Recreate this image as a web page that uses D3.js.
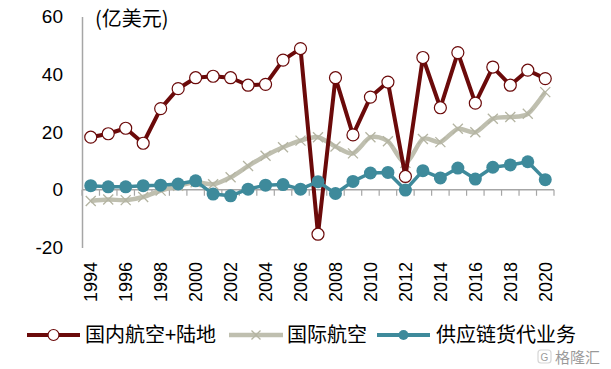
<!DOCTYPE html>
<html><head><meta charset="utf-8">
<script src="https://cdn.jsdelivr.net/npm/d3@7"></script>
<style>
body{margin:0;background:#fff;}
svg{display:block;}
text{font-family:"Liberation Sans",Arial,sans-serif;fill:#000;}
.cjk{font-family:"Noto Sans CJK SC","Noto Sans",sans-serif;}
</style></head>
<body>
<svg id="chart" width="611" height="369"></svg>
<script>
const years = d3.range(1994, 2021).map(String);
const domestic = [18.2,19.4,21.3,16.1,28.1,35.0,38.8,39.3,38.8,36.2,36.5,44.9,48.9,-15.4,38.8,19.0,32.1,37.3,4.6,45.8,28.4,47.5,30.0,42.5,36.2,41.4,38.5];
const international = [-3.9,-3.4,-3.6,-2.5,-0.3,1.4,2.6,1.9,4.3,8.2,11.8,14.7,17.0,18.2,15.0,12.6,18.2,16.8,9.3,17.6,16.5,21.1,19.9,24.6,25.2,26.3,33.8];
const supply = [1.4,1.0,1.0,1.4,1.6,2.0,3.1,-1.5,-2.1,0.2,1.6,1.8,0.2,2.8,-1.3,2.9,5.8,6.0,-0.1,6.6,4.1,7.5,3.7,7.8,8.6,9.7,3.5];
const yTicks = [-20,0,20,40,60];
const xLabels = years.filter((d,i)=>i%2===0);
const seriesNames = ["国内航空+陆地","国际航空","供应链货代业务"];
const unitLabel = "(亿美元)";

const C_RED = "#6B0A0A", C_GREY = "#BFBFAF", C_TEAL = "#3E8A9B", C_AXIS = "#A6A6A6";

const svg = d3.select("#chart");
const x = d3.scaleBand().domain(years).range([82, 554]).padding(0);
const y = d3.scaleLinear().domain([-20, 60]).range([247.5, 16.5]);
const cx = d => x(d) + x.bandwidth()/2;

// y axis
const yAxis = svg.append("g").attr("transform","translate(82,0)")
  .call(d3.axisLeft(y).tickValues(yTicks).tickSize(0).tickPadding(19).tickFormat(d => String(d)));
yAxis.select(".domain").attr("stroke", C_AXIS).attr("stroke-width", 1.5);
yAxis.selectAll("text").style("font-size","19px").style("font-family","Liberation Sans, Arial, sans-serif").attr("fill","#000");

// x axis line at zero with boundary ticks
const xg = svg.append("g");
xg.append("line").attr("x1", x.range()[0]).attr("x2", x.range()[1])
  .attr("y1", y(0)).attr("y2", y(0)).attr("stroke", C_AXIS).attr("stroke-width", 1.5);
const bounds = years.map(d => x(d)).concat([x.range()[1]]);
xg.selectAll("line.tk").data(bounds).join("line").attr("class","tk")
  .attr("x1", d=>d).attr("x2", d=>d).attr("y1", y(0)).attr("y2", y(0)+6)
  .attr("stroke", C_AXIS).attr("stroke-width", 1.2);

// x labels
svg.append("g").selectAll("text").data(xLabels).join("text")
  .attr("transform", d => `translate(${cx(d)},262) rotate(-90)`)
  .attr("text-anchor","end").attr("dy","0.35em")
  .style("font-size","18px").text(d=>d);

// unit label
svg.append("text").attr("class","cjk").attr("x",95).attr("y",26)
  .style("font-size","20px").text(unitLabel);

// international (smoothed)
const lineI = d3.line().x((d,i)=>cx(years[i])).y(d=>y(d)).curve(d3.curveCardinal.tension(0.2));
svg.append("path").datum(international).attr("d", lineI)
  .attr("fill","none").attr("stroke",C_GREY).attr("stroke-width",4.5);
const xMark = (g, px, py, s) => {
  g.append("path").attr("d", `M${px-s},${py-s}L${px+s},${py+s}M${px-s},${py+s}L${px+s},${py-s}`)
    .attr("stroke","#B4B4A2").attr("stroke-width",1.3).attr("fill","none");
};
const gi = svg.append("g");
international.forEach((v,i)=> xMark(gi, cx(years[i]), y(v), 5));

// domestic
const lineD = d3.line().x((d,i)=>cx(years[i])).y(d=>y(d));
svg.append("path").datum(domestic).attr("d", lineD)
  .attr("fill","none").attr("stroke",C_RED).attr("stroke-width",4).attr("stroke-linejoin","round");
svg.append("g").selectAll("circle").data(domestic).join("circle")
  .attr("cx",(d,i)=>cx(years[i])).attr("cy",d=>y(d)).attr("r",6)
  .attr("fill","#fff").attr("stroke",C_RED).attr("stroke-width",1.2);

// supply chain
svg.append("path").datum(supply).attr("d", lineD)
  .attr("fill","none").attr("stroke",C_TEAL).attr("stroke-width",3.5).attr("stroke-linejoin","round");
svg.append("g").selectAll("circle").data(supply).join("circle")
  .attr("cx",(d,i)=>cx(years[i])).attr("cy",d=>y(d)).attr("r",6.5)
  .attr("fill",C_TEAL);

// legend
const ly = 335;
const leg = svg.append("g");
const items = [
  {x0:27, x1:80, tx:85, color:C_RED, type:"o"},
  {x0:229, x1:283, tx:287, color:C_GREY, type:"x"},
  {x0:377, x1:430, tx:436, color:C_TEAL, type:"dot"}
];
items.forEach((it, k) => {
  leg.append("line").attr("x1",it.x0).attr("x2",it.x1).attr("y1",ly).attr("y2",ly)
    .attr("stroke",it.color).attr("stroke-width", k===1?4.5:4);
  const m = (it.x0+it.x1)/2;
  if (it.type==="o") leg.append("circle").attr("cx",m).attr("cy",ly).attr("r",5.5).attr("fill","#fff").attr("stroke",it.color).attr("stroke-width",1.2);
  else if (it.type==="x") xMark(leg, m, ly, 4.5);
  else leg.append("circle").attr("cx",m).attr("cy",ly).attr("r",5).attr("fill",it.color);
  leg.append("text").attr("class","cjk").attr("x",it.tx).attr("y",ly).attr("dy","0.36em")
    .style("font-size","20px").text(seriesNames[k]);
});

// watermark
const wm = svg.append("g").attr("opacity",0.4);
wm.append("rect").attr("x",538).attr("y",350).attr("width",13).attr("height",13).attr("rx",3)
  .attr("fill","none").attr("stroke","#9a9a9a").attr("stroke-width",1.2);
wm.append("text").attr("x",544.5).attr("y",360.5).attr("text-anchor","middle").style("font-size","10px").attr("fill","#9a9a9a").text("G");
wm.append("text").attr("class","cjk").attr("x",555).attr("y",363).style("font-size","15px").attr("fill","#9a9a9a").text("格隆汇");
</script>
</body></html>
